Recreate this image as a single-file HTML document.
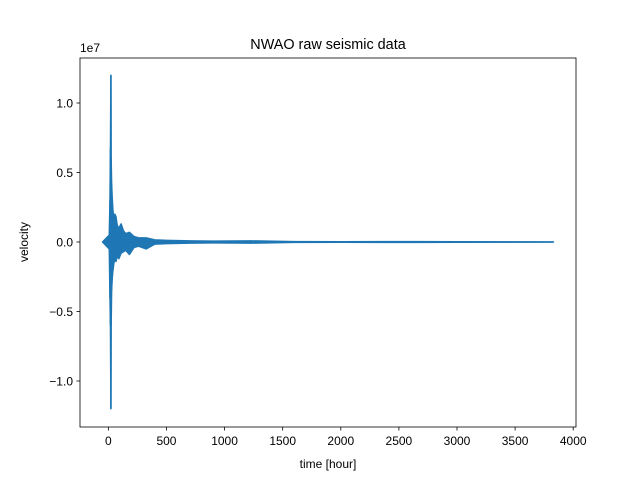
<!DOCTYPE html>
<html><head><meta charset="utf-8"><style>
body{margin:0;background:#fff}
svg{display:block;font-family:"Liberation Sans","DejaVu Sans",sans-serif}
</style></head><body>
<svg id="chart" width="640" height="480">
<rect x="0" y="0" width="640" height="480" fill="#fff"/>
<text x="328" y="49" font-size="14.4" text-anchor="middle">NWAO raw seismic data</text>
<text x="328" y="468" font-size="12" text-anchor="middle">time [hour]</text>
<text x="28" y="242" font-size="12" text-anchor="middle" transform="rotate(-90 28 242)">velocity</text>
<text x="80" y="52" font-size="12">1e7</text>
<g id="ticks"></g>
<g id="marks"></g>
<rect x="80" y="58" width="496" height="369" fill="none" stroke="#000" stroke-width="0.8"/>
</svg>
<script>
const xTicks=[0,500,1000,1500,2000,2500,3000,3500,4000];
const yTicks=[-1.0,-0.5,0.0,0.5,1.0];
const yTickLabels=["\u22121.0","\u22120.5","0.0","0.5","1.0"];
const times=[-50,8,14,18,22,24,28,34,40,48,56,66,76,90,110,130,150,181,220,260,325,400,500,700,900,1230,1600,2000,2660,3000,3500,3830];
const upper=[0,0.05,0.3,0.67,1.2,0.6,0.42,0.3,0.22,0.15,0.2,0.18,0.12,0.1,0.13,0.08,0.06,0.07,0.04,0.03,0.03,0.015,0.012,0.008,0.006,0.008,0.003,0.002,0.003,0.002,0.001,0];
const lower=[0,-0.05,-0.4,-0.6,-1.2,-0.6,-0.35,-0.25,-0.2,-0.15,-0.12,-0.14,-0.1,-0.12,-0.08,-0.07,-0.06,-0.09,-0.04,-0.03,-0.05,-0.015,-0.012,-0.008,-0.006,-0.008,-0.003,-0.002,-0.003,-0.002,-0.001,0];
const X=t=>80+(t+244)/(4024+244)*496;
const Y=v=>242-v*139;
const NS="http://www.w3.org/2000/svg";
const tg=document.getElementById('ticks');
xTicks.forEach(t=>{
 const l=document.createElementNS(NS,'line');
 l.setAttribute('x1',X(t));l.setAttribute('x2',X(t));l.setAttribute('y1',427);l.setAttribute('y2',430.5);l.setAttribute('stroke','#000');l.setAttribute('stroke-width','0.8');
 
 
 tg.appendChild(l);
 const tx=document.createElementNS(NS,'text');
 tx.setAttribute('x',X(t));tx.setAttribute('y',445);tx.setAttribute('font-size','12');tx.setAttribute('text-anchor','middle');tx.textContent=t;
 
 
 tg.appendChild(tx);
});
yTicks.forEach((v,i)=>{
 const l=document.createElementNS(NS,'line');
 l.setAttribute('x1',76.5);l.setAttribute('x2',80);l.setAttribute('y1',Y(v));l.setAttribute('y2',Y(v));l.setAttribute('stroke','#000');l.setAttribute('stroke-width','0.8');
 
 
 tg.appendChild(l);
 const tx=document.createElementNS(NS,'text');
 tx.setAttribute('x',73);tx.setAttribute('y',Y(v)+4.5);tx.setAttribute('font-size','12');tx.setAttribute('text-anchor','end');tx.textContent=yTickLabels[i];
 
 
 tg.appendChild(tx);
});
const mg=document.getElementById('marks');
// filled envelope
let up=[],lo=[];
for(let i=0;i<times.length;i++){
 up.push(X(times[i])+','+Y(upper[i]));
 lo.unshift(X(times[i])+','+Y(lower[i]));
}
const env=document.createElementNS(NS,'polygon');
env.setAttribute('points',up.concat(lo).join(' '));
env.setAttribute('fill','#1f77b4');env.setAttribute('stroke','#1f77b4');env.setAttribute('stroke-width','1.5');env.setAttribute('stroke-linejoin','round');


mg.appendChild(env);
// vertical spikes at each sample
for(let i=0;i<times.length;i++){
 const l=document.createElementNS(NS,'line');
 l.setAttribute('x1',X(times[i]));l.setAttribute('x2',X(times[i]));
 l.setAttribute('y1',Y(upper[i]));l.setAttribute('y2',Y(lower[i]));
 l.setAttribute('stroke','#1f77b4');l.setAttribute('stroke-width','1.5');
 
 
 mg.appendChild(l);
}
const base=document.createElementNS(NS,'line');
base.setAttribute('x1',X(times[0]));base.setAttribute('x2',X(times[times.length-1]));
base.setAttribute('y1',Y(0));base.setAttribute('y2',Y(0));
base.setAttribute('stroke','#1f77b4');base.setAttribute('stroke-width','1.5');


mg.appendChild(base);
</script>
</body></html>
